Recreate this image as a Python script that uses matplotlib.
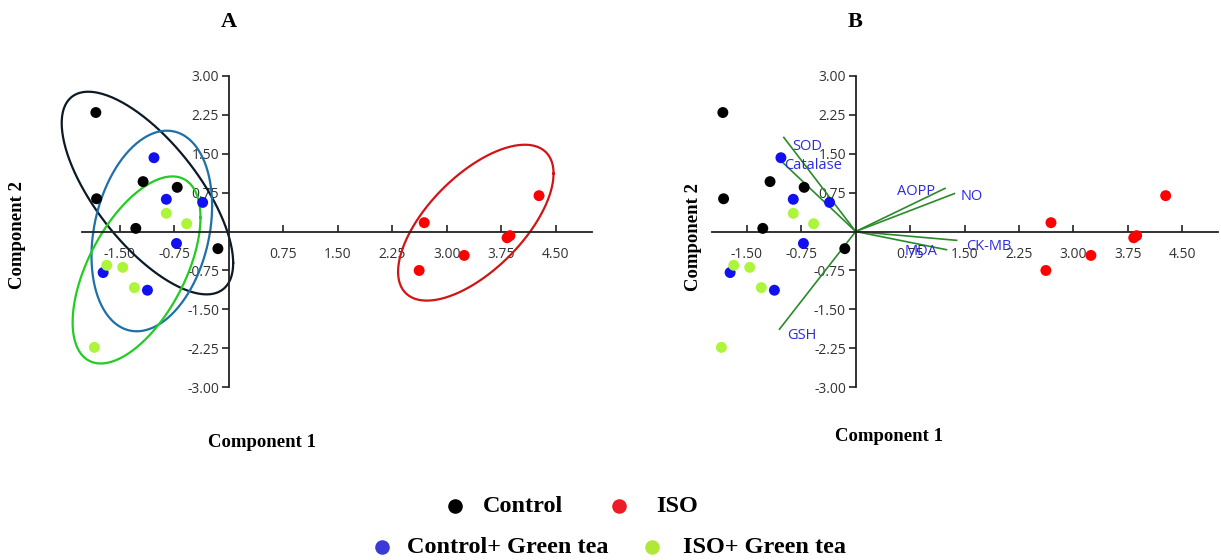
import numpy as np
import matplotlib.pyplot as plt
from matplotlib.lines import Line2D

# PCA scores (Component 1, Component 2)
control_x = [-1.83, -1.82, -1.18, -0.71, -1.28, -0.15]
control_y = [2.29, 0.63, 0.96, 0.85, 0.06, -0.33]
iso_x = [2.69, 2.62, 3.24, 3.83, 3.87, 4.27]
iso_y = [0.17, -0.75, -0.46, -0.12, -0.08, 0.69]
ctrl_gt_x = [-1.03, -0.86, -0.36, -0.72, -1.73, -1.12]
ctrl_gt_y = [1.42, 0.62, 0.56, -0.23, -0.79, -1.13]
iso_gt_x = [-0.86, -0.58, -1.68, -1.46, -1.30, -1.85]
iso_gt_y = [0.35, 0.15, -0.65, -0.69, -1.08, -2.23]

# 95% ellipses (panel A): centre, half-extent in x / y, tilt (correlation-like)
ell_cx = [-1.12, 3.40, -1.06, -1.27]
ell_cy = [0.74, 0.17, 0.01, -0.74]
ell_wx = [1.18, 1.07, 0.83, 0.88]
ell_wy = [1.95, 1.50, 1.93, 1.80]
ell_r = [-0.69, 0.63, 0.25, 0.56]

# loadings (biplot vectors)
var_names = ['SOD', 'Catalase', 'AOPP', 'NO', 'CK-MB', 'MDA', 'GSH']
load_x = [-0.99, -1.06, 1.23, 1.36, 1.39, 1.25, -1.05]
load_y = [1.81, 1.40, 0.83, 0.73, -0.17, -0.35, -1.88]
lab_x = [-0.67, -0.59, 0.83, 1.60, 1.83, 0.90, -0.74]
lab_y = [1.63, 1.27, 0.77, 0.68, -0.29, -0.39, -2.00]

group_names = ['Control', 'ISO', 'Control+ Green tea', 'ISO+ Green tea']
group_x = [control_x, iso_x, ctrl_gt_x, iso_gt_x]
group_y = [control_y, iso_y, ctrl_gt_y, iso_gt_y]
point_colors = ['#000000', '#ff0000', '#1010f0', '#adf53a']
ellipse_colors = ['#0b1a26', '#d01515', '#1f6fa8', '#22cc22']
legend_colors = ['#000000', '#ee1c25', '#3a3ad8', '#b0e838']

ticks = [-3.0, -2.25, -1.5, -0.75, 0.75, 1.5, 2.25, 3.0, 3.75, 4.5]
tick_font = 'Open Sans'


def draw_ellipse(ax, cx, cy, wx, wy, r, color):
    t = np.linspace(0, 2 * np.pi, 300)
    phi = np.arccos(r)
    ax.plot(cx + wx * np.cos(t), cy + wy * np.cos(t - phi), color=color,
            linewidth=1.6, zorder=2, clip_on=False)


def style_axes(ax, xlim):
    ax.set_xlim(xlim)
    ax.set_ylim(-3.05, 3.05)
    for s in ['top', 'right']:
        ax.spines[s].set_visible(False)
    ax.spines['left'].set_position(('data', 0))
    ax.spines['bottom'].set_position(('data', 0))
    ax.spines['left'].set_bounds(-3.0, 3.0)
    for s in ['left', 'bottom']:
        ax.spines[s].set_color('#222222')
        ax.spines[s].set_linewidth(1.3)
    ax.set_xticks([t for t in ticks if xlim[0] + 0.1 < t < xlim[1]])
    ax.set_yticks([t for t in ticks if t <= 3.0])
    ax.set_xticklabels(['%.2f' % t for t in ax.get_xticks()])
    ax.set_yticklabels(['%.2f' % t for t in ax.get_yticks()])
    ax.tick_params(axis='x', direction='in', length=5, width=1.2, colors='#222222',
                   labelsize=10, pad=11, labelcolor='#333333')
    ax.tick_params(axis='y', direction='out', length=5, width=1.2, colors='#222222',
                   labelsize=10, pad=2, labelcolor='#333333')
    for lbl in ax.get_xticklabels() + ax.get_yticklabels():
        lbl.set_fontfamily(tick_font)


fig = plt.figure(figsize=(12.21, 5.6), dpi=100)

# Panel A: scores with ellipses
axA = fig.add_axes([0.0672, 0.3036, 0.4177, 0.566])
style_axes(axA, (-2.02, 5.0))
for i in range(4):
    axA.scatter(group_x[i], group_y[i], s=62, color=point_colors[i],
                edgecolors='none', zorder=3)
    draw_ellipse(axA, ell_cx[i], ell_cy[i], ell_wx[i], ell_wy[i], ell_r[i],
                 ellipse_colors[i])

# Panel B: biplot
axB = fig.add_axes([0.5831, 0.3036, 0.4144, 0.566])
style_axes(axB, (-1.98, 4.99))
for i in range(4):
    axB.scatter(group_x[i], group_y[i], s=62, color=point_colors[i],
                edgecolors='none', zorder=3)
for i, v in enumerate(var_names):
    axB.plot([0, load_x[i]], [0, load_y[i]], color='#2a8a2a', linewidth=1.2, zorder=2)
    axB.text(lab_x[i], lab_y[i], v, color='#2b2be0', fontsize=10.5, family=tick_font,
             ha='center', va='center', zorder=4)

serif = 'Liberation Serif'
fig.text(0.1875, 0.96, 'A', fontsize=16, fontweight='bold', family=serif, ha='center', va='center')
fig.text(0.7005, 0.96, 'B', fontsize=16, fontweight='bold', family=serif, ha='center', va='center')
fig.text(0.0147, 0.580, 'Component 2', fontsize=13.5, fontweight='bold', family=serif,
         rotation=90, ha='center', va='center')
fig.text(0.5676, 0.577, 'Component 2', fontsize=13.5, fontweight='bold', family=serif,
         rotation=90, ha='center', va='center')
fig.text(0.2146, 0.2107, 'Component 1', fontsize=13.5, fontweight='bold', family=serif,
         ha='center', va='center')
fig.text(0.7285, 0.2214, 'Component 1', fontsize=13.5, fontweight='bold', family=serif,
         ha='center', va='center')

# legend: two rows of marker + label, placed in figure coordinates
leg_marker_x = [0.3726, 0.507, 0.3129, 0.534]
leg_text_x = [0.3956, 0.5373, 0.3333, 0.5594]
leg_y = [0.0964, 0.0964, 0.0232, 0.0232]
for i in range(4):
    fig.add_artist(Line2D([leg_marker_x[i]], [leg_y[i]], transform=fig.transFigure,
                          marker='o', linestyle='none', markersize=10.5,
                          markerfacecolor=legend_colors[i], markeredgecolor='none'))
    fig.text(leg_text_x[i], leg_y[i], group_names[i], fontsize=17.5, fontweight='bold',
             family=serif, ha='left', va='center')

fig.savefig('out.png', dpi=100)
